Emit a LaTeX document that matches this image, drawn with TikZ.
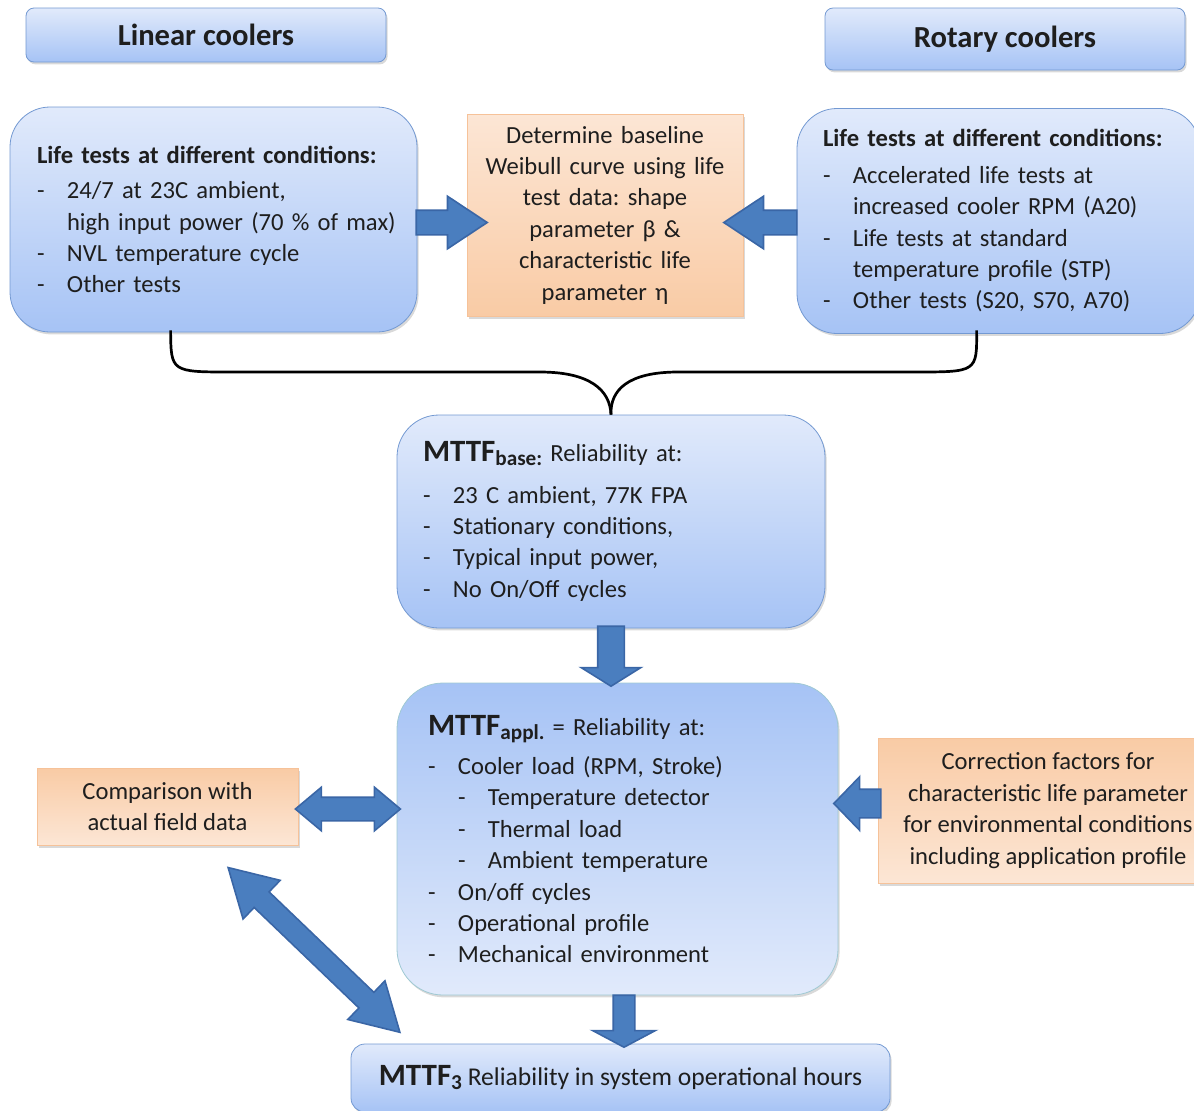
\documentclass[tikz,border=0pt]{standalone}
\usepackage{fontspec}
\setmainfont{Carlito}
\usepackage{tikz}
\usetikzlibrary{calc,shapes.arrows,shadows}

\definecolor{boxtop}{HTML}{E1EAFB}
\definecolor{boxbot}{HTML}{A6C3F5}
\definecolor{boxline}{HTML}{7399D2}
\definecolor{appline}{HTML}{9FC9D3}
\definecolor{peachtop}{HTML}{FCE6D5}
\definecolor{peachbot}{HTML}{F9CBA5}
\definecolor{peachline}{HTML}{F6C299}
\definecolor{arrfill}{HTML}{4A7EBF}
\definecolor{arrline}{HTML}{3A66A6}
\definecolor{txt}{HTML}{1E1E1E}

\newcommand{\dashitem}{\makebox[15pt][l]{-}}
\newcommand{\subdash}{\hspace*{15pt}\makebox[15pt][l]{-}}
\newcommand{\mttf}[1]{{\fontsize{15.5}{18}\selectfont\bfseries MTTF}\raisebox{-2pt}{\fontsize{10.6}{12}\selectfont\bfseries #1}}
\frenchspacing

\begin{document}
\begin{tikzpicture}
	[x=0.5pt, y=-0.5pt,
	every node/.style={text=txt, font=\fontsize{12.3}{15.7}\selectfont},
	bluebox/.style={draw=boxline, top color=boxtop, bottom color=boxbot, inner sep=0pt,
		drop shadow={shadow xshift=0.8pt, shadow yshift=-1.2pt, opacity=0.3}},
	titlebox/.style={bluebox, rounded corners=4pt, minimum width=180pt, font=\fontsize{15.3}{18}\selectfont\bfseries},
	testbox/.style={bluebox, rounded corners=20pt, align=left},
	peachbox/.style={draw=peachline, top color=peachtop, bottom color=peachbot, inner sep=0pt, align=center,
		drop shadow={shadow xshift=1.2pt, shadow yshift=-1.5pt, opacity=0.3}},
	fatarrow/.style={single arrow, draw=arrline, fill=arrfill, inner xsep=0pt, line width=0.8pt},
	fatdouble/.style={double arrow, draw=arrline, fill=arrfill, inner xsep=0pt, line width=0.8pt}]
	\useasboundingbox (0,0) rectangle (1194,1110);

	\node[titlebox, minimum height=27pt] (lin) at (206,35) {Linear coolers};
	\node[titlebox, minimum height=31pt] (rot) at (1005,39) {Rotary coolers};

	\node[testbox, minimum width=203.5pt, minimum height=112.5pt, text width=176.5pt] (lifeL) at (213.5,219.5) {
		\textbf{Life tests at different conditions:}\\[2pt]
		\dashitem 24/7 at 23C ambient,\\
		\hspace*{15pt}\mbox{high input power (70 \% of max)}\\
		\dashitem NVL temperature cycle\\
		\dashitem Other tests};
	\node[testbox, minimum width=201.5pt, minimum height=112.5pt, text width=175.5pt] (lifeR) at (998.5,221) {
		\textbf{Life tests at different conditions:}\\[2.5pt]
		\dashitem Accelerated life tests at\\
		\hspace*{15pt}increased cooler RPM (A20)\\
		\dashitem Life tests at standard\\
		\hspace*{15pt}temperature profile (STP)\\
		\dashitem Other tests (S20, S70, A70)};
	\node[peachbox, minimum width=138pt, minimum height=101pt, text width=134pt] (weib) at (605,215) {Determine baseline\\ Weibull curve using life\\ test data: shape\\ parameter β \&\\ characteristic life\\ parameter η};

	\node[testbox, rounded corners=21pt, minimum width=214pt, minimum height=106.5pt, text width=188pt] (base) at (611,521.5) {
		\mttf{base:} Reliability at:\\[5pt]
		\dashitem 23 C ambient, 77K FPA\\
		\dashitem Stationary conditions,\\
		\dashitem Typical input power,\\
		\dashitem No On/Off cycles};
	\node[testbox, rounded corners=23pt, draw=appline, top color=boxbot, bottom color=boxtop, minimum width=220.5pt, minimum height=156pt, text width=189.5pt] (appl) at (617.5,839) {
		\mttf{appl.} = Reliability at:\\[4pt]
		\dashitem Cooler load (RPM, Stroke)\\
		\subdash Temperature detector\\
		\subdash Thermal load\\
		\subdash Ambient temperature\\
		\dashitem On/off cycles\\
		\dashitem Operational profile\\
		\dashitem Mechanical environment};

	\node[peachbox, top color=peachbot, bottom color=peachtop, minimum width=130.5pt, minimum height=38.5pt] (comp) at (167.5,806.5) {Comparison with\\ actual field data};
	\node[peachbox, top color=peachbot, bottom color=peachtop, minimum width=170pt, minimum height=72.5pt] (corr) at (1048,810.5) {Correction factors for\\ characteristic life parameter\\ for environmental conditions\\ including application profile};
	\node[bluebox, rounded corners=7pt, minimum width=269.5pt, minimum height=34pt, font=\fontsize{12.8}{15.7}\selectfont] (sys) at (620.5,1078) {\mttf{3} Reliability in system operational hours};

	\node[fatarrow, inner ysep=5.75pt, minimum height=35.5pt, minimum width=25.5pt, single arrow head extend=7pt, single arrow tip angle=67, anchor=tail] (a1) at ($(lifeL.east)+(-2,3)$) {};
	\node[fatarrow, rotate=180, inner ysep=5.75pt, minimum height=36.5pt, minimum width=25.5pt, single arrow head extend=7pt, single arrow tip angle=67, anchor=tail] (a2) at ($(lifeR.west)+(1,1.5)$) {};
	\node[fatarrow, rotate=-90, inner ysep=6.25pt, minimum height=30pt, minimum width=29pt, single arrow head extend=8.25pt, single arrow tip angle=116, anchor=tail] (a3) at ($(base.south)+(0,-3)$) {};
	\node[fatarrow, rotate=-90, inner ysep=5pt, minimum height=26pt, minimum width=30.5pt, single arrow head extend=10.25pt, single arrow tip angle=124, anchor=tail] (a4) at ($(appl.south)+(6.5,-1)$) {};
	\node[fatarrow, rotate=180, inner ysep=6.75pt, minimum height=23.5pt, minimum width=26pt, single arrow head extend=6.25pt, single arrow tip angle=92, anchor=tail] (a5) at ($(corr.west)+(4,-7)$) {};
	\node[fatdouble, inner ysep=5.5pt, minimum height=52.5pt, minimum width=21pt, double arrow head extend=5pt, double arrow tip angle=80] (a6) at ($(comp.east)+(49.5,2.5)$) {};
	\node[fatdouble, rotate=-43.8, inner ysep=5pt, minimum height=119pt, minimum width=26pt, double arrow head extend=8pt, double arrow tip angle=60] (a7) at ($(comp.south)+(146.5,104.5)$) {};

	\coordinate (bl) at ($(lifeL.south west)+(161,-2)$);
	\coordinate (br) at ($(lifeR.south west)+(180,-3.5)$);
	\draw[line width=1.35pt] (bl) .. controls (171,372) .. (232,372) -- (540,372) .. controls (590,372) and (610,390) .. (base.north);
	\draw[line width=1.35pt] (br) .. controls (977,372) .. (914,372) -- (678,372) .. controls (628,372) and (610,390) .. (base.north);
\end{tikzpicture}
\end{document}
